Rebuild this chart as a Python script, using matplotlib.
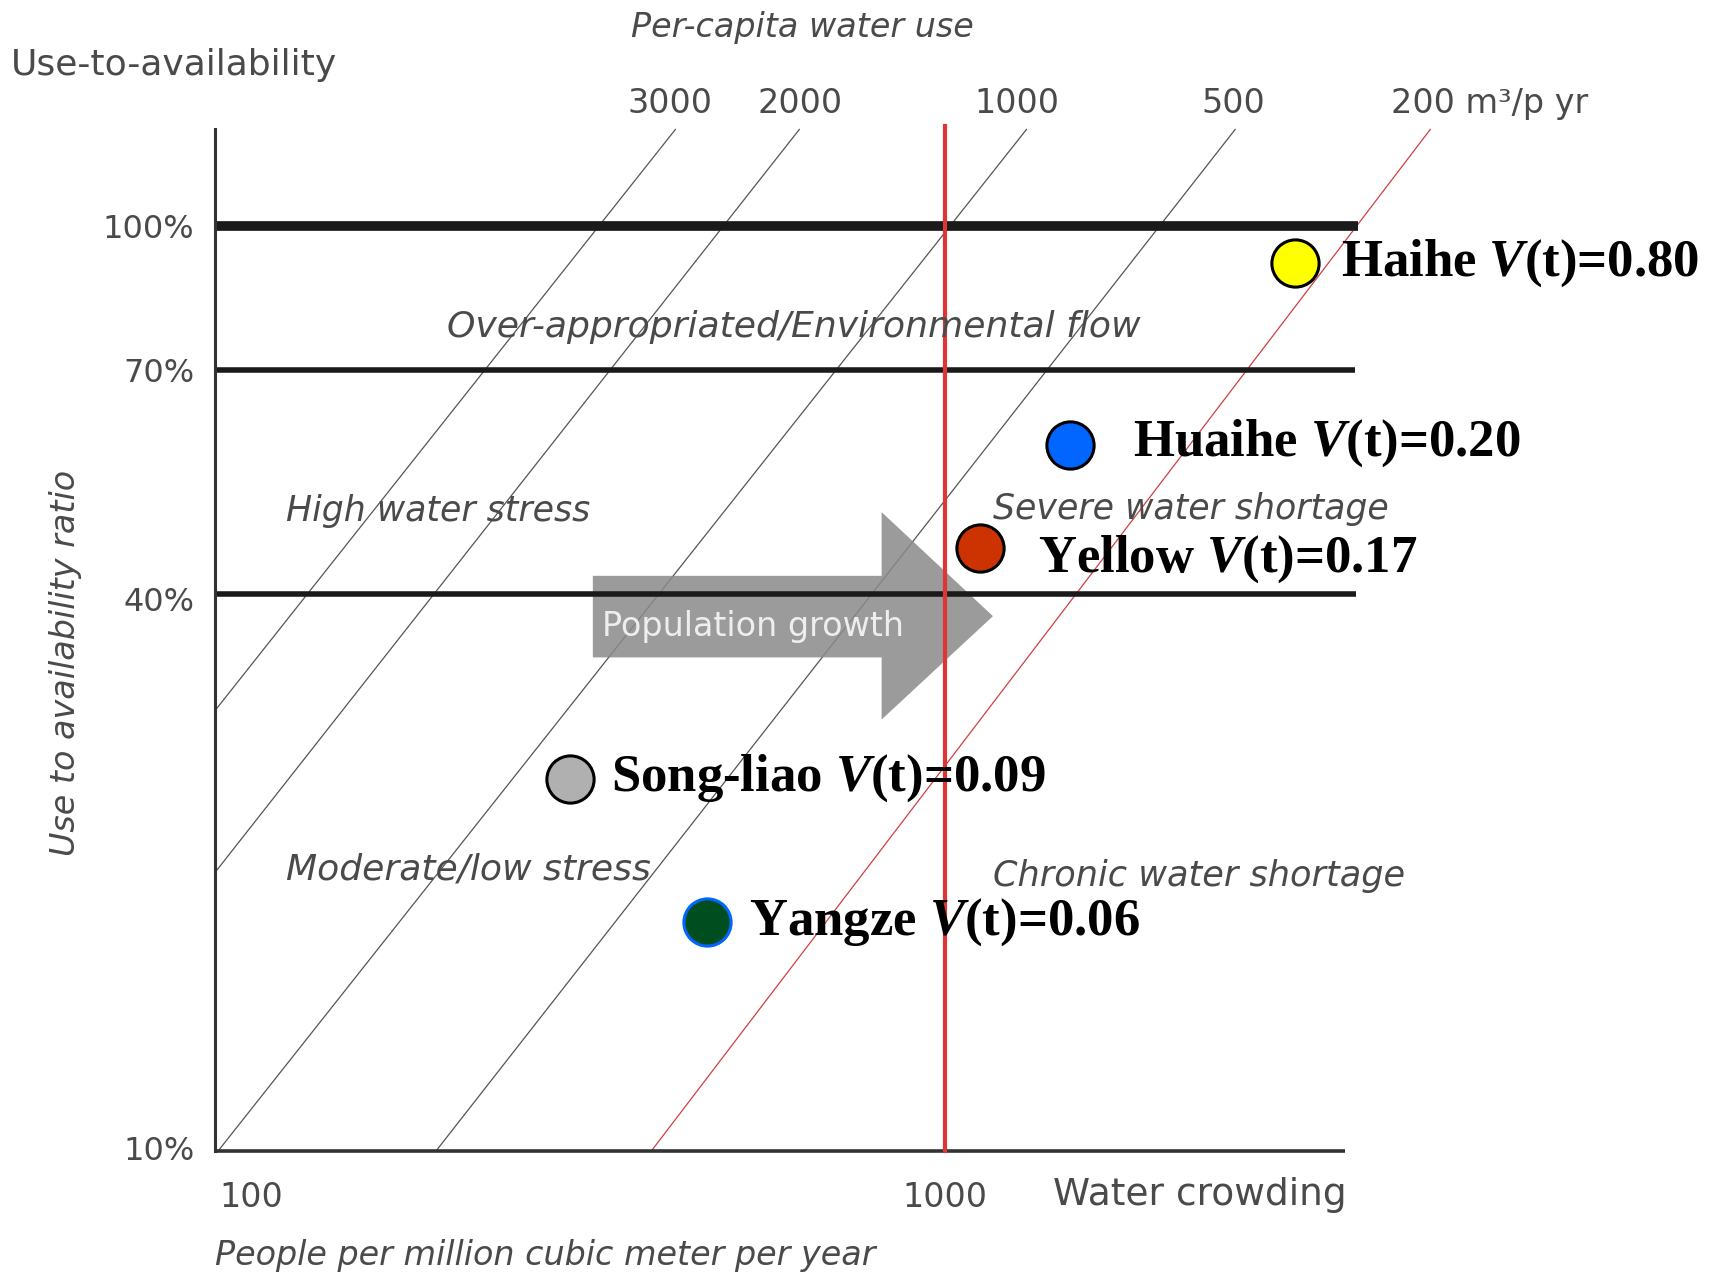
import matplotlib
matplotlib.use("Agg")
import matplotlib.pyplot as plt
from matplotlib.patches import Polygon
import numpy as np

# per-capita water use lines (m3/p yr): water crowding where each reaches 100 %,
# and the log-log slope each is drawn with in the original sketch
percap_labels = ["3000", "2000", "1000", "500", "200 m³/p yr"]
line_c_at_100 = [318, 480, 1016, 2032, 3899]
line_slope = [0.95, 0.957, 0.951, 0.962, 0.987]
line_colors = ["#555555", "#555555", "#555555", "#555555", "#d04040"]

# river basins
basins = ["Haihe", "Huaihe", "Yellow", "Song-liao", "Yangze"]
crowding = [3184, 1514, 1122, 289, 455]
ratio = [91.2, 58.1, 44.9, 25.3, 17.7]
vt = ["0.80", "0.20", "0.17", "0.09", "0.06"]
face = ["#ffff00", "#0066ff", "#cc3300", "#b0b0b0", "#004d20"]
edge = ["black", "black", "black", "black", "#0066ff"]

hlabels = ["100%", "70%", "40%", "10%"]

plt.rcParams['mathtext.fontset'] = 'custom'
plt.rcParams['mathtext.rm'] = 'Liberation Serif:bold'
plt.rcParams['mathtext.it'] = 'Liberation Serif:italic:bold'

W, H = 1568, 1171
fig = plt.figure(figsize=(17.11, 12.78), dpi=100)
ax = fig.add_axes([197 / W, 1 - 1055 / H, (1340 - 197) / W, (1055 - 118) / H])
ax.set_xscale('log')
ax.set_yscale('log')
xmin, xmax = 89.4, 5534
ax.set_xlim(xmin, xmax)
ax.set_ylim(10, 127.5)
ax.axis('off')

sans = ['DejaVu Sans']
grey = '#4a4a4a'

# diagonal per-capita lines
rtop = 127.3
for c100, k, col in zip(line_c_at_100, line_slope, line_colors):
    c_bottom = c100 * (10 / 100) ** (1 / k)
    c0 = max(xmin, c_bottom)
    c1 = c100 * (rtop / 100) ** (1 / k)
    cs = np.array([c0, c1])
    ax.plot(cs, 100 * (cs / c100) ** k, color=col, lw=0.9, clip_on=False)

# population growth arrow
arrow = Polygon([(312, 41.9), (811, 41.9), (811, 49.1), (1172, 37.9), (811, 29.3),
                 (811, 34.2), (312, 34.2)], closed=True, facecolor='#8a8a8a',
                edgecolor='none', alpha=0.85, zorder=2)
ax.add_patch(arrow)
ax.text(322, 36.9, "Population growth", color='#eeeeee', fontsize=24, family=sans,
        va='center', ha='left', zorder=3)

# horizontal lines
ax.plot([xmin, 3926], [100, 100], color='#1a1a1a', lw=7, solid_capstyle='butt', zorder=4)
ax.plot([xmin, 3880], [70, 70], color='#1a1a1a', lw=4, solid_capstyle='butt', zorder=4)
ax.plot([xmin, 3890], [40, 40], color='#1a1a1a', lw=4, solid_capstyle='butt', zorder=4)
# axes
ax.plot([xmin, 3750], [10, 10], color='#333333', lw=2.6, solid_capstyle='butt', clip_on=False, zorder=4)
ax.plot([xmin, xmin], [10, 127.5], color='#333333', lw=2.2, clip_on=False, zorder=4)
# red vertical line at 1000
ax.plot([1000, 1000], [10, 128.5], color='#e03535', lw=3, clip_on=False, zorder=5)

# basins
for name, c, r, v, fc, ec in zip(basins, crowding, ratio, vt, face, edge):
    ax.plot(c, r, 'o', ms=34, mfc=fc, mec=ec, mew=2.2, zorder=6)
offsets = [(33, 0), (45, 1), (42, -8), (30, 0), (30, 0)]
for name, c, r, v, off in zip(basins, crowding, ratio, vt, offsets):
    ax.annotate(name + " $V$(t)=" + v, (c, r), xytext=off, textcoords='offset points',
                fontsize=38, family='Liberation Serif', weight='bold', va='center', ha='left', zorder=7)

# figure text in pixel coords of the reference
def ftext(x, y, s, **kw):
    fig.text(x / W, 1 - y / H, s, **kw)

ftext(10, 60, "Use-to-availability", fontsize=26, family=sans, color=grey, va='center')
ftext(578, 25, "Per-capita water use", fontsize=24, family=sans, style='italic', color=grey, va='center')
for lab, xc in zip(percap_labels[:4], [614, 733, 932, 1130]):
    ftext(xc, 95, lab, fontsize=24, family=sans, color=grey, ha='center', va='center')
ftext(1275, 95, percap_labels[4], fontsize=24, family=sans, color=grey, ha='left', va='center')
for lab, y in zip(hlabels, [210, 342, 552, 1055]):
    ftext(178, y, lab, fontsize=23, family=sans, color=grey, ha='right', va='center')
ftext(60, 607, "Use to availability ratio", fontsize=24, family=sans, style='italic', color=grey,
      rotation=90, ha='center', va='center')
ftext(410, 300, "Over-appropriated/Environmental flow", fontsize=26, family=sans, style='italic', color=grey, va='center')
ftext(262, 468, "High water stress", fontsize=25, family=sans, style='italic', color=grey, va='center')
ftext(910, 466, "Severe water shortage", fontsize=25, family=sans, style='italic', color=grey, va='center')
ftext(262, 797, "Moderate/low stress", fontsize=26, family=sans, style='italic', color=grey, va='center')
ftext(910, 803, "Chronic water shortage", fontsize=25.3, family=sans, style='italic', color=grey, va='center')
ftext(230, 1097, "100", fontsize=24, family=sans, color=grey, ha='center', va='center')
ftext(866, 1097, "1000", fontsize=24, family=sans, color=grey, ha='center', va='center')
ftext(965, 1095, "Water crowding", fontsize=27, family=sans, color=grey, va='center')
ftext(197, 1150, "People per million cubic meter per year", fontsize=24, family=sans, style='italic',
      color=grey, va='center')

fig.savefig("out.png", dpi=100, facecolor='white')
